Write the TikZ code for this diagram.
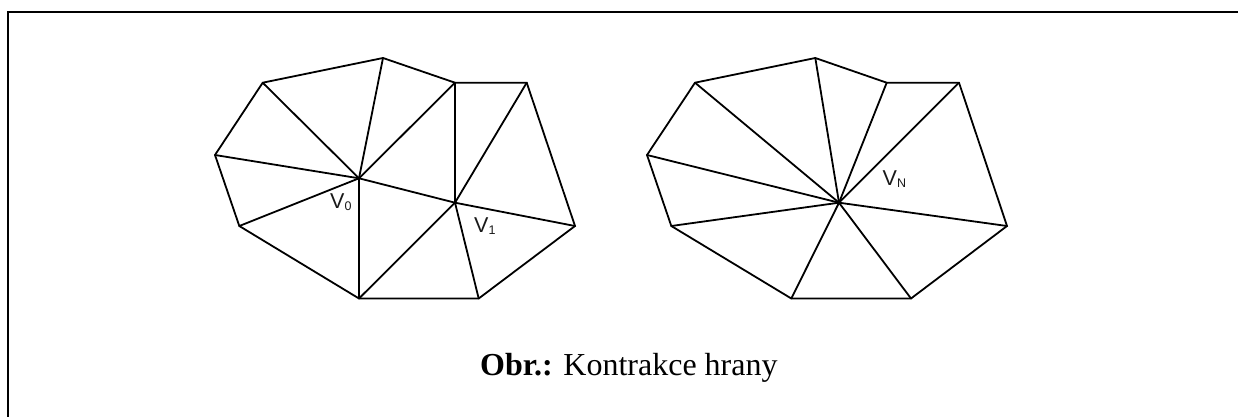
\documentclass[tikz,border=0pt]{standalone}
\usepackage{fontspec}
\setmainfont{Liberation Serif}
\setsansfont{Liberation Sans}
\usetikzlibrary{positioning}
\newcommand{\vsub}[1]{{\fontsize{12.5}{12.5}\selectfont\raisebox{-2.7pt}{#1}}}

\begin{document}
\begin{tikzpicture}[
  x=1pt, y=-1pt,
  frameline/.style={line width=2pt, color=black},
  edge/.style={line width=1.8pt, color=black, line join=miter, line cap=round},
  vlabel/.style={inner sep=0pt, anchor=base west, text=black!90, font=\sffamily\fontsize{21.5}{21.5}\selectfont},
  caption/.style={inner sep=0pt, anchor=base west, font=\rmfamily\fontsize{32}{32}\selectfont}
]
  \useasboundingbox (0,0) rectangle (1246,417);

  % left mesh
  \coordinate (la) at (215,155);
  \coordinate (lb) at (262.7,82.7);
  \coordinate (lc) at (383,58);
  \coordinate (ld) at (455,82.7);
  \coordinate (le) at (526.7,82.7);
  \coordinate (lf) at (575,226);
  \coordinate (lg) at (478.7,298.5);
  \coordinate (lh) at (359,298.5);
  \coordinate (li) at (239.3,226);
  \coordinate (vzero) at (359,178.3);
  \coordinate (vone) at (455,202.7);

  \draw[edge] (la) -- (lb) -- (lc) -- (ld) -- (le) -- (lf) -- (lg) -- (lh) -- (li) -- cycle;
  \foreach \p in {la,lb,lc,ld,li,lh,vone}
    \draw[edge] (vzero) -- (\p);
  \foreach \p in {ld,le,lf,lg,lh}
    \draw[edge] (vone) -- (\p);

  % right mesh
  \coordinate (ra) at (647,155);
  \coordinate (rb) at (695,82.7);
  \coordinate (rc) at (815.3,58);
  \coordinate (rd) at (886.7,82.7);
  \coordinate (re) at (959,82.7);
  \coordinate (rf) at (1007,226);
  \coordinate (rg) at (911,298.5);
  \coordinate (rh) at (791.3,298.5);
  \coordinate (ri) at (671.3,226);
  \coordinate (vn) at (839,202.7);

  \draw[edge] (ra) -- (rb) -- (rc) -- (rd) -- (re) -- (rf) -- (rg) -- (rh) -- (ri) -- cycle;
  \foreach \p in {ra,rb,rc,rd,re,rf,rg,rh,ri}
    \draw[edge] (vn) -- (\p);

  % labels
  \node[vlabel] (lzero) at (330,208) {V\vsub{0}};
  \node[vlabel] (lone) at (474,232) {V\vsub{1}};
  \node[vlabel] (ln) at (882.5,185) {V\vsub{N}};
  \node[caption] (cap) at (480,375.5) {\textbf{Obr.:} Kontrakce hrany};

  % frame, open to the right and to the bottom
  \coordinate (ftl) at (8,12);
  \coordinate (ftr) at (1238,12);
  \coordinate (fbl) at (8,417);
  \draw[frameline] (fbl) -- (ftl) -- (ftr);
\end{tikzpicture}
\end{document}
